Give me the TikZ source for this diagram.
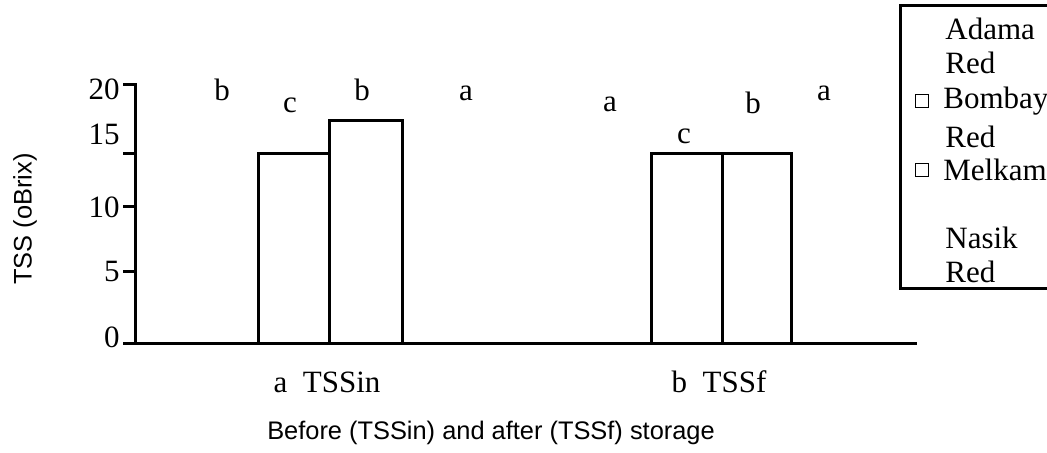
\documentclass[tikz,border=0pt]{standalone}
\usepackage{fontspec}
\setmainfont{Liberation Serif}
\setsansfont{Liberation Sans}
\usetikzlibrary{positioning}

\begin{document}
\begin{tikzpicture}[x=0.5pt,y=-0.5pt,
			lbl/.style={font=\fontsize{15.5}{18}\selectfont, inner sep=0pt},
			sans/.style={font=\sffamily\fontsize{12.7}{15}\selectfont, inner sep=0pt},
			bar/.style={draw, line width=1.5pt},
			axis/.style={line width=1.5pt},
			box/.style={draw, line width=0.6pt, minimum size=6.5pt, inner sep=0pt}]
				\useasboundingbox (0,0) rectangle (1047,452);
				\clip (0,0) rectangle (1047,452);
				% axes
				\coordinate (o) at (135,343);
				\coordinate (top) at (135,84);
				\coordinate (end) at (917,343);
				\draw[axis] (123,84) -- (top) -- (o);
				\draw[axis] (123,343) -- (end);
				\foreach \y in {153,206,271}
					\draw[axis] (123,\y) -- (135,\y);
				\foreach \v/\y in {20/89,15/134,10/207,5/271,0/337}
					\node[lbl, anchor=east] (t\v) at (120,\y) {\v};
				% bars
				\draw[bar] (258,343) rectangle (329,153);
				\draw[bar] (329,343) rectangle (402,120);
				\draw[bar] (651,343) rectangle (722,153);
				\draw[bar] (722,343) rectangle (791,153);
				% letters
				\foreach \l/\x/\y [count=\i] in {b/222/90,c/290/105,b/362/90,a/466/93,a/610/104,c/684/136,b/753/103,a/824/93}
					\node[lbl] (s\i) at (\x,\y) {\l};
				\node[lbl] (gin) at (327,382) {a~~TSSin};
				\node[lbl] (gf) at (719,382) {b~~TSSf};
				\node[sans] (xl) at (491,433) {Before (TSSin) and after (TSSf) storage};
				\node[sans, rotate=90] (yl) at (25,219) {TSS (oBrix)};
				% legend
				\draw[line width=1.5pt] (900,5) rectangle (1060,288);
				\node[lbl, anchor=west] (l1) at (945,29) {Adama};
				\node[lbl, anchor=west] (l2) at (945,63) {Red};
				\node[lbl, anchor=west] (l3) at (943,101) {Bombay};
				\node[lbl, anchor=west] (l4) at (945,137) {Red};
				\node[lbl, anchor=west] (l5) at (943,170) {Melkam};
				\node[lbl, anchor=west] (l6) at (945,238) {Nasik};
				\node[lbl, anchor=west] (l7) at (945,272) {Red};
				\node[box, left=7pt of l3.west] (b3) {};
				\node[box, left=7pt of l5.west] (b5) {};
			\end{tikzpicture}
\end{document}
